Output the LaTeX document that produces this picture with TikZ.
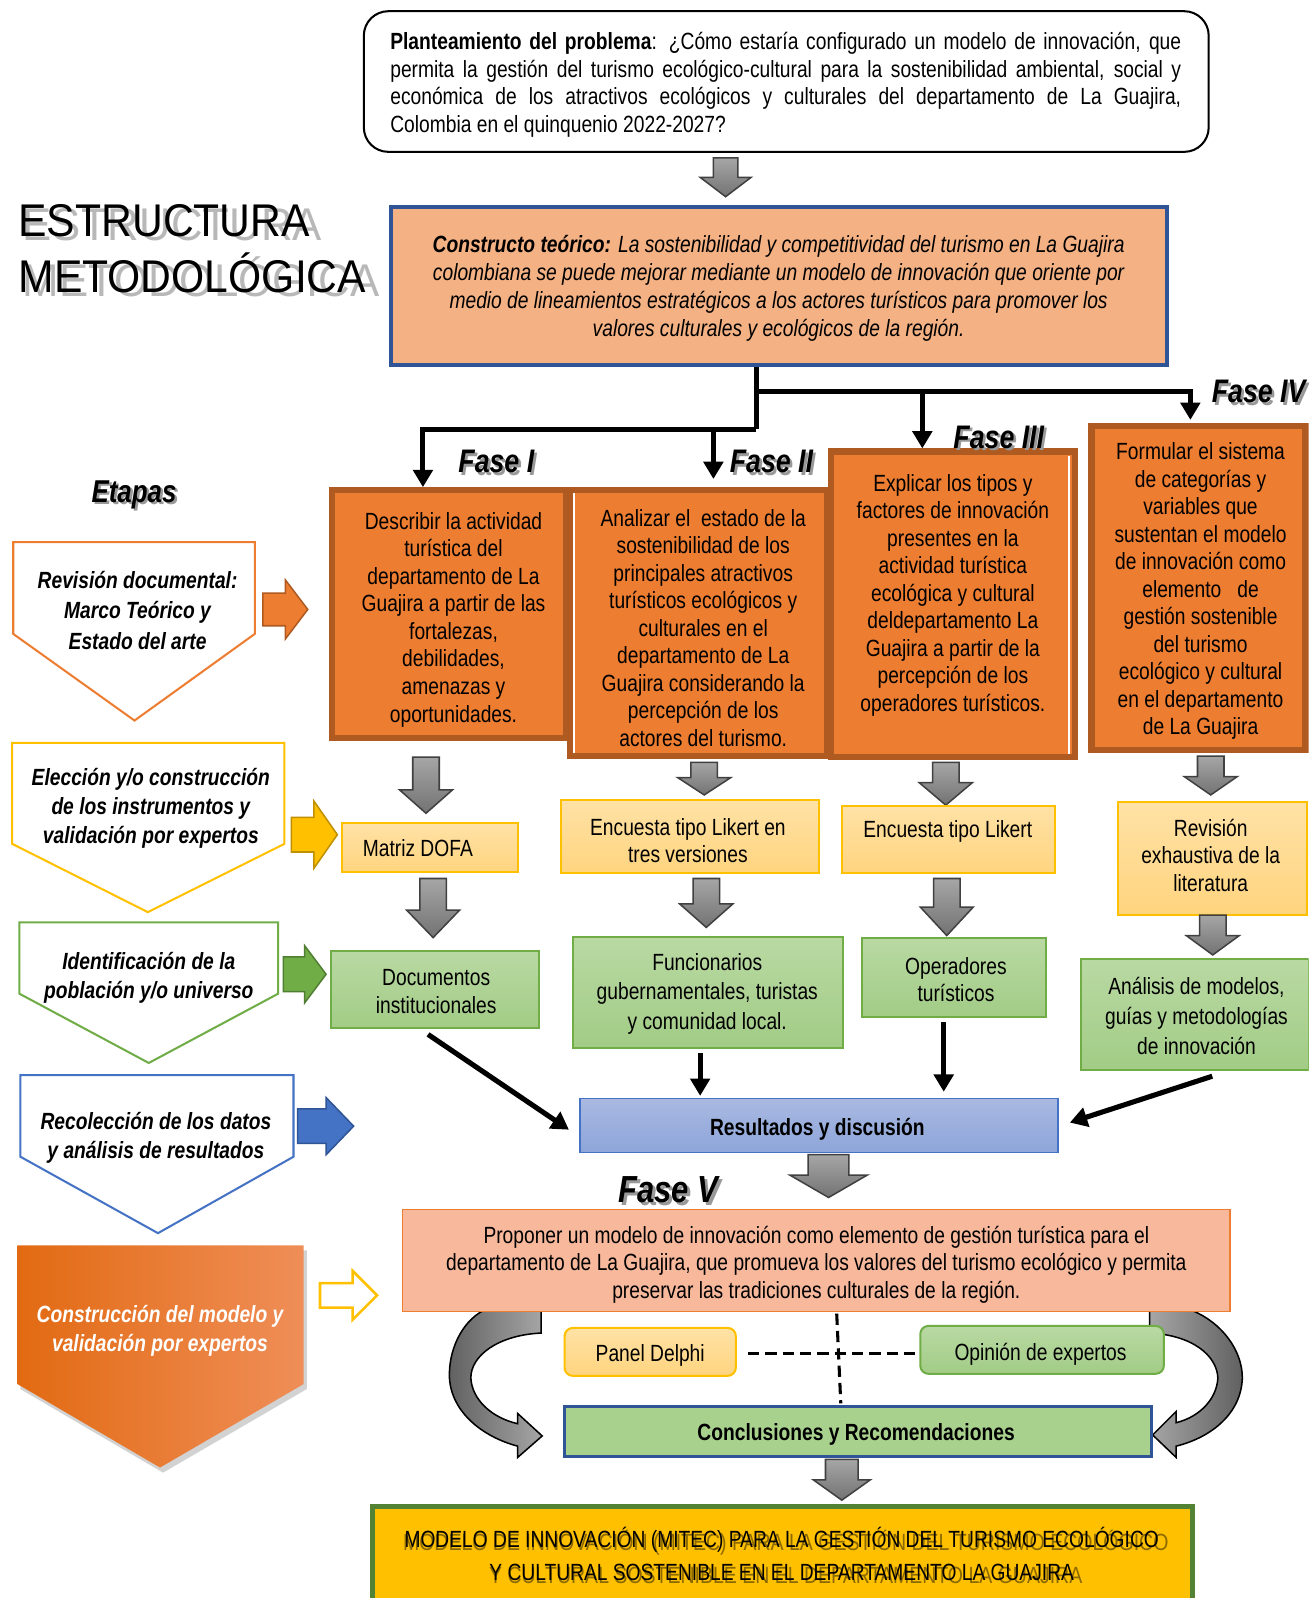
\documentclass[tikz,border=0pt]{standalone}
\usepackage{fontspec}
\setmainfont[FakeStretch=0.82]{Liberation Sans}
\newfontfamily\shfont[FakeStretch=0.832]{Liberation Sans}
\newfontfamily\titlefont[FakeStretch=0.93]{Liberation Sans}
\newfontfamily\titleshfont[FakeStretch=0.955]{Liberation Sans}
\usetikzlibrary{arrows.meta,shadows,calc}
\definecolor{orF}{HTML}{ED7D31}
\definecolor{brB}{HTML}{AE5A21}
\definecolor{ylF}{HTML}{FFC000}
\definecolor{ylD}{HTML}{BF9000}
\definecolor{grF}{HTML}{70AD47}
\definecolor{grD}{HTML}{507E32}
\definecolor{blF}{HTML}{4472C4}
\definecolor{blD}{HTML}{2F5597}
\definecolor{salm}{HTML}{F4B183}
\definecolor{salmB}{HTML}{F7B89C}
\definecolor{gnL}{HTML}{A9D18E}
\definecolor{gnT}{HTML}{B9D9A3}
\definecolor{gnB}{HTML}{A2CC86}
\definecolor{ylT}{HTML}{FFE2A6}
\definecolor{ylB}{HTML}{FFD47E}
\definecolor{blT}{HTML}{A9B9E1}
\definecolor{blB}{HTML}{8DA5D9}
\definecolor{finG}{HTML}{548235}
\definecolor{oD}{HTML}{E26A12}
\definecolor{oM}{HTML}{F37E2E}
\definecolor{oL}{HTML}{EF8E58}
\newcommand\gdown[6]{\draw[garrow] ({#1-#5},#2) -- ({#1+#5},#2) -- ({#1+#5},#3) -- ({#1+#6},#3) -- (#1,#4) -- ({#1-#6},#3) -- ({#1-#5},#3) -- cycle;}
\newcommand\rarr[7]{\draw[#1] (#2,{#5-#6}) -- (#3,{#5-#6}) -- (#3,{#5-#7}) -- (#4,#5) -- (#3,{#5+#7}) -- (#3,{#5+#6}) -- (#2,{#5+#6}) -- cycle;}
\tikzset{
  txt/.style={inner sep=0pt, align=center, font=\fontsize{23}{27}\selectfont},
  etxt/.style={inner sep=0pt, align=center, font=\fontsize{23}{28.5}\selectfont\bfseries\itshape},
  fasebox/.style={rectangle, draw=brB, fill=orF, line width=6, inner sep=0pt},
  ybx/.style={rectangle, draw=ylF, line width=2, top color=ylT, bottom color=ylB, inner sep=0pt},
  gbx/.style={rectangle, draw=grF, line width=2, top color=gnT, bottom color=gnB, inner sep=0pt},
  bbx/.style={rectangle, draw=blF, line width=1.5, top color=blT, bottom color=blB, inner sep=0pt},
  garrow/.style={draw=black!75, line width=1.5, top color=black!35, bottom color=black!55},
  blk/.style={line width=5, draw=black, -{Triangle[length=17pt,width=19pt]}},
  blkl/.style={line width=5, draw=black},
  fasel/.style={inner sep=0pt, anchor=base, font=\fontsize{32}{36}\selectfont\bfseries\itshape},
  ttl/.style={inner sep=0pt, anchor=base west, font=\titlefont\fontsize{45}{54}\selectfont},
  ttlsh/.style={inner sep=0pt, anchor=base west, font=\titleshfont\fontsize{45}{54}\selectfont, text=black!28},
  dsh/.style={line width=3, draw=black, dash pattern=on 11pt off 6pt},
  carr/.style={draw=black, line width=1.5},
}
\begin{document}
\begin{tikzpicture}[x=1pt,y=-1pt]
\useasboundingbox (0,0) rectangle (1284,1568);
\fill[white] (0,0) rectangle (1284,1568);
\clip (0,0) rectangle (1284,1568);

% problem statement
\node[draw=black, line width=2, rounded corners=24, minimum width=829, minimum height=138, fill=white] (prob) at (771.5,80) {};
\node[txt, text width=776, align=justify] (probt) at (771,83) {\textbf{Planteamiento del problema}: ¿Cómo estaría configurado un modelo de innovación, que\linebreak permita la gestión del turismo ecológico-cultural para la sostenibilidad ambiental, social y\linebreak económica de los atractivos ecológicos y culturales del departamento de La Guajira,\linebreak Colombia en el quinquenio 2022-2027?};
\gdown{712}{155}{174}{193}{12}{25}

% title
\node[ttlsh] (ttl1s) at (22,236) {ESTRUCTURA};
\node[ttlsh] (ttl2s) at (22,291) {METODOLÓGICA};
\node[ttl] (ttl1) at (18,232) {ESTRUCTURA};
\node[ttl] (ttl2) at (18,287) {METODOLÓGICA};

% constructo
\node[rectangle, draw=blD, fill=salm, line width=4, minimum width=761, minimum height=155] (cons) at (764.5,280.5) {};
\node[txt, font=\fontsize{23}{27.5}\selectfont\itshape] (const) at (764,282.5) {\textbf{Constructo teórico:} La sostenibilidad y competitividad del turismo en La Guajira\\ colombiana se puede mejorar mediante un modelo de innovación que oriente por\\ medio de lineamientos estratégicos a los actores turísticos para promover los\\ valores culturales y ecológicos de la región.};

% phase boxes
\node[fasebox, minimum width=229, minimum height=243] (f1) at (440.5,602.5) {};
\node[fasebox, minimum width=253, minimum height=261] (f2) at (685.5,611.5) {};
\node[fasebox, minimum width=240, minimum height=300] (f3) at (935,593) {};
\node[fasebox, minimum width=210, minimum height=318] (f4) at (1176,577) {};
\draw[white, line width=1.5] (563,484) -- (563,739);
\draw[white, line width=1.5] (1049,447) -- (1049,740);
\node[txt] (f1t) at (445,608) {Describir la actividad\\ turística del\\ departamento de La\\ Guajira a partir de las\\ fortalezas,\\ debilidades,\\ amenazas y\\ oportunidades.};
\node[txt] (f2t) at (690,616) {Analizar el\ \ estado de la\\ sostenibilidad de los\\ principales atractivos\\ turísticos ecológicos y\\ culturales en el\\ departamento de La\\ Guajira considerando la\\ percepción de los\\ actores del turismo.};
\node[txt] (f3t) at (935,584) {Explicar los tipos y\\ factores de innovación\\ presentes en la\\ actividad turística\\ ecológica y cultural\\ deldepartamento La\\ Guajira a partir de la\\ percepción de los\\ operadores turísticos.};
\node[txt] (f4t) at (1178,580) {Formular el sistema\\ de categorías y\\ variables que\\ sustentan el modelo\\ de innovación como\\ elemento \ \ de\\ gestión sostenible\\ del turismo\\ ecológico y cultural\\ en el departamento\\ de La Guajira};

% tree connectors
\coordinate (tx) at (742,0);
\coordinate (j1) at (742,384);
\coordinate (j2) at (742,421);
\coordinate (x415) at (415,0);
\coordinate (x700) at (700,421);
\coordinate (x905) at (905,384);
\coordinate (x1168) at (1168,384);
\draw[blkl] (tx |- cons.south) -- (j2);
\draw[blk] (j2) -- (j2 -| x415) -- (x415 |- f1.north);
\draw[blk] (j1) -- (x1168) -- ($(x1168 |- f4.north)+(0,-3)$);
\draw[blk] (x905) -- (x905 |- f3.north);
\draw[blk] (x700) -- ($(x700 |- f2.north)+(0,-8)$);

% phase labels
\node[fasel, text=black!40] (l1s) at (489.5,466.5) {Fase I};
\node[fasel] (l1) at (487,464) {Fase I};
\node[fasel, text=black!40] (l2s) at (759.5,466.5) {Fase II};
\node[fasel] (l2) at (757,464) {Fase II};
\node[fasel, text=black!40] (l3s) at (982.5,442.5) {Fase III};
\node[fasel] (l3) at (980,440) {Fase III};
\node[fasel, text=black!40] (l4s) at (1237.5,397.5) {Fase IV};
\node[fasel] (l4) at (1235,395) {Fase IV};
\node[fasel, font=\fontsize{31}{36}\selectfont\bfseries\itshape, text=black!40] (ets) at (134,495.5) {Etapas};
\node[fasel, font=\fontsize{31}{36}\selectfont\bfseries\itshape] (et) at (131.5,493) {Etapas};

% stage pentagons
\draw[line width=2, draw=orF] (13,532) -- (250,532) -- (250,622) -- (132,707) -- (13,622) -- cycle;
\node[etxt, font=\fontsize{23}{29.5}\selectfont\bfseries\itshape] (e1) at (135,599) {Revisión documental:\\ Marco Teórico y\\ Estado del arte};
\rarr{fill=orF,draw=brB,line width=1.5}{258}{280}{302}{598}{16}{29}
\draw[line width=2, draw=ylF] (12,729) -- (279,729) -- (279,828) -- (145,895) -- (12,828) -- cycle;
\node[etxt] (e2) at (148,793) {Elección y/o construcción\\ de los instrumentos y\\ validación por expertos};
\rarr{fill=ylF,draw=ylD,line width=1.5}{286}{308}{331}{819}{17}{33}
\draw[line width=2, draw=grF] (19,905) -- (273,905) -- (273,975) -- (146,1043) -- (19,975) -- cycle;
\node[etxt] (e3) at (146,959) {Identificación de la\\ población y/o universo};
\rarr{fill=grF,draw=grD,line width=1.5}{278}{299}{320}{956}{17}{28}
\draw[line width=2, draw=blF] (20,1055) -- (288,1055) -- (288,1135) -- (155,1210) -- (20,1135) -- cycle;
\node[etxt] (e4) at (153,1116) {Recolección de los datos\\ y análisis de resultados};
\rarr{fill=blF,draw=blD,line width=1.5}{292}{320}{347}{1105}{17}{28}
\path[left color=oD, middle color=oM, right color=oL, drop shadow={shadow xshift=3pt, shadow yshift=-5pt, opacity=0.35}] (17,1222) -- (298,1222) -- (298,1358) -- (157,1440) -- (17,1358) -- cycle;
\node[etxt, text=white] (e5) at (157,1306) {Construcción del modelo y\\ validación por expertos};
\rarr{fill=white,draw=ylF,line width=2.5}{314}{346}{370}{1271}{12}{24}

% gray arrows level 2
\gdown{418}{743}{775}{798}{13}{26}
\gdown{691}{748}{763}{780}{13}{26}
\gdown{928}{748}{768}{790}{13}{26}
\gdown{1188}{742}{762}{780}{13}{26}

% instrument boxes
\node[ybx, minimum width=172, minimum height=48] (dofa) at (422,832) {};
\node[txt] (dofat) at (410,832) {Matriz DOFA};
\node[ybx, minimum width=254, minimum height=72] (lik3) at (677,821) {};
\node[txt] (lik3t) at (675,825) {Encuesta tipo Likert en\\ tres versiones};
\node[ybx, minimum width=209, minimum height=66] (lik) at (930.5,824) {};
\node[txt] (likt) at (930,816) {Encuesta tipo Likert};
\node[ybx, minimum width=185, minimum height=111] (rev) at (1189.5,842.5) {};
\node[txt] (revt) at (1188,839) {Revisión\\ exhaustiva de la\\ literatura};

% gray arrows level 3
\gdown{425}{862}{893}{920}{13}{26}
\gdown{693}{862}{887}{910}{13}{26}
\gdown{929}{862}{890}{918}{13}{26}
\gdown{1190}{898}{918}{937}{13}{26}

% population boxes
\node[gbx, minimum width=204, minimum height=76] (doc) at (427,971) {};
\node[txt, font=\fontsize{23}{28}\selectfont] (doct) at (428,973) {Documentos\\ institucionales};
\node[gbx, minimum width=265, minimum height=109] (fun) at (694.5,973.5) {};
\node[txt, font=\fontsize{23}{29}\selectfont] (funt) at (694,975) {Funcionarios\\ gubernamentales, turistas\\ y comunidad local.};
\node[gbx, minimum width=180, minimum height=78] (ope) at (936,959) {};
\node[txt, font=\fontsize{23}{26.5}\selectfont] (opet) at (938,961) {Operadores\\ turísticos};
\node[gbx, minimum width=223, minimum height=109] (ana) at (1172.5,995.5) {};
\node[txt, font=\fontsize{23}{29.5}\selectfont] (anat) at (1174,997) {Análisis de modelos,\\ guías y metodologías\\ de innovación};

% results
\node[bbx, minimum width=469, minimum height=53] (res) at (803.5,1104.5) {};
\node[txt, font=\fontsize{23}{27}\selectfont\bfseries] (rest) at (802,1108) {Resultados y discusión};
\coordinate (x687) at (687,0);
\coordinate (x926) at (926,0);
\draw[blk] ($(doc.south)+(-7,5)$) -- ($(res.west)+(-10,4)$);
\draw[blk] ($(x687 |- fun.south)+(0,4)$) -- ($(x687 |- res.north)+(0,-2)$);
\draw[blk] ($(x926 |- ope.south)+(0,4)$) -- ($(x926 |- res.north)+(0,-6)$);
\draw[blk] ($(ana.south)+(17,5)$) -- ($(res.east)+(11,-3)$);
\gdown{813}{1133}{1153}{1175}{20}{38}

% phase V
\node[fasel, font=\fontsize{37}{40}\selectfont\bfseries\itshape, text=black!40] (l5s) at (658.5,1182.5) {Fase V};
\node[fasel, font=\fontsize{37}{40}\selectfont\bfseries\itshape] (l5) at (656,1180) {Fase V};

% curved arrows
\draw[carr, left color=black!62, right color=black!35] (531,1286) -- (474,1286) .. controls (452,1298) and (440,1326) .. (441,1352) .. controls (443,1386) and (474,1410) .. (508,1419) -- (508,1430) -- (532,1409) -- (508,1387) -- (508,1397) .. controls (482,1391) and (463,1373) .. (462,1352) .. controls (462,1330) and (489,1310) .. (531,1308) -- cycle;
\draw[carr, left color=black!35, right color=black!62] (1128,1286) -- (1170,1286) .. controls (1199,1298) and (1219,1325) .. (1219,1352) .. controls (1218,1386) and (1190,1410) .. (1154,1419) -- (1154,1430) -- (1131,1408) -- (1154,1385) -- (1154,1396) .. controls (1178,1390) and (1194,1372) .. (1195,1352) .. controls (1194,1330) and (1170,1310) .. (1128,1308) -- cycle;

\node[rectangle, draw=orF, line width=1.5, fill=salmB, minimum width=812, minimum height=100] (fv) at (801,1237) {};
\node[txt] (fvt) at (801,1241) {Proponer un modelo de innovación como elemento de gestión turística para el\\ departamento de La Guajira, que promueva los valores del turismo ecológico y permita\\ preservar las tradiciones culturales de la región.};

% validation
\node[ybx, rounded corners=8, minimum width=168, minimum height=47] (pd) at (638,1326.5) {};
\node[txt] (pdt) at (638,1330) {Panel Delphi};
\node[gbx, rounded corners=8, minimum width=239, minimum height=47] (op) at (1022.5,1324.5) {};
\node[txt] (opt) at (1021,1329) {Opinión de expertos};
\coordinate (dv1) at (821,1289);
\coordinate (dv2) at (825,1377);
\draw[dsh] ($(pd.east)+(11,2)$) -- ($(op.west |- pd.east)+(-3,2)$);
\draw[dsh] (dv1) -- (dv2);
\node[rectangle, draw=blD, line width=2.5, fill=gnL, minimum width=576, minimum height=49] (conc) at (842,1404.5) {};
\node[txt, font=\fontsize{23}{27}\selectfont\bfseries] (conct) at (840,1407.5) {Conclusiones y Recomendaciones};
\gdown{826}{1432}{1452}{1472}{16}{28}

% final box
\node[rectangle, draw=finG, line width=5, fill=ylF, minimum width=805, minimum height=111] (fin) at (768,1534) {};
\node[txt, font=\shfont\fontsize{23}{32}\selectfont, text=black!45!ylF] (fints) at (771,1528) {MODELO DE INNOVACIÓN (MITEC) PARA LA GESTIÓN DEL TURISMO ECOLÓGICO\\ Y CULTURAL SOSTENIBLE EN EL DEPARTAMENTO LA GUAJIRA};
\node[txt, font=\fontsize{23}{32}\selectfont] (fint) at (767,1525) {MODELO DE INNOVACIÓN (MITEC) PARA LA GESTIÓN DEL TURISMO ECOLÓGICO\\ Y CULTURAL SOSTENIBLE EN EL DEPARTAMENTO LA GUAJIRA};
\end{tikzpicture}
\end{document}
